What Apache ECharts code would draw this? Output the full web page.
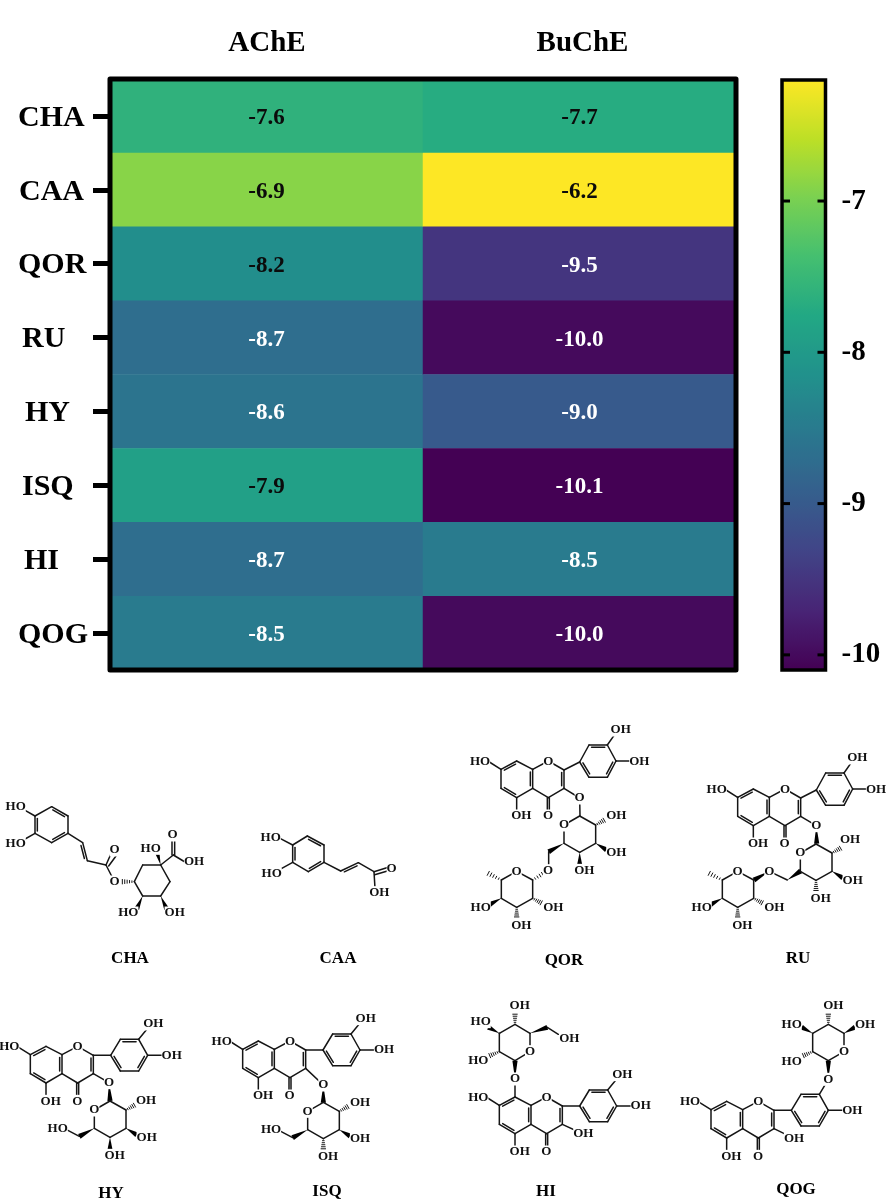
<!DOCTYPE html>
<html><head><meta charset="utf-8">
<style>html,body{margin:0;padding:0;background:#fff}#c{width:886px;height:1200px}</style>
<script src="https://cdn.jsdelivr.net/npm/echarts@6/dist/echarts.min.js"></script>
</head><body><div id="c"></div>
<script>
const compounds = ['CHA','CAA','QOR','RU','HY','ISQ','HI','QOG'];
const enzymes = ['AChE','BuChE'];
const ache = [-7.6,-6.9,-8.2,-8.7,-8.6,-7.9,-8.7,-8.5];
const buche = [-7.7,-6.2,-9.5,-10.0,-9.0,-10.1,-8.5,-10.0];
const colorbarTicks = [-7,-8,-9,-10];
const viridis = ['#440154','#482475','#414487','#355f8d','#2a788e','#21918c','#22a884','#44bf70','#7ad151','#bddf26','#fde725'];

const SERIF = '"Liberation Serif","Times New Roman",serif';
const labelShift = {CHA:0,CAA:1,QOR:0,RU:4,HY:7,ISQ:4,HI:6,QOG:0};

const heat = [];
[ache,buche].forEach((vals,x)=>vals.forEach((v,y)=>heat.push({
  value:[x,y,v],
  label:{color: v > -8.3 ? '#0b0b0b' : '#ffffff'}
})));

/* ---------- chemical structure drawings (illustrations, not data) ---------- */
const gfx = [];
const INK = '#151515';
const T = (x0,y0)=>(x,y)=>[x0+x/3,y0+y/3];
function seg(a,b,w){gfx.push({type:'line',z:20,silent:true,shape:{x1:a[0],y1:a[1],x2:b[0],y2:b[1]},style:{stroke:INK,lineWidth:w||1.5,lineCap:'round'}});}
function wedge(a,b){
  const dx=b[0]-a[0],dy=b[1]-a[1],n=Math.hypot(dx,dy)||1,px=-dy/n*2.6,py=dx/n*2.6;
  gfx.push({type:'polygon',z:20,silent:true,shape:{points:[a,[b[0]+px,b[1]+py],[b[0]-px,b[1]-py]]},style:{fill:'#000'}});
}
function hash(a,b){
  const dx=b[0]-a[0],dy=b[1]-a[1],n=Math.hypot(dx,dy)||1,px=-dy/n,py=dx/n;
  for(let i=1;i<=5;i++){const f=i/5*0.8,w=0.5+f*2.2,c=[a[0]+dx*f,a[1]+dy*f];
    seg([c[0]+px*w,c[1]+py*w],[c[0]-px*w,c[1]-py*w],1);}
}
function add(t,spec,ox,oy){
  ox=ox||0;oy=oy||0;
  const P=(x,y)=>t(x+ox,y+oy);
  (spec.path||[]).forEach(p=>{for(let i=0;i+3<p.length;i+=2)seg(P(p[i],p[i+1]),P(p[i+2],p[i+3]));});
  (spec.in||[]).forEach(d=>{
    const mx=(d[0]+d[2])/2,my=(d[1]+d[3])/2,vx=d[4]-mx,vy=d[5]-my,n=Math.hypot(vx,vy)||1,s=7,sx=vx/n*s,sy=vy/n*s;
    const q=0.14,ax=d[0]+(d[2]-d[0])*q+sx,ay=d[1]+(d[3]-d[1])*q+sy,bx=d[2]-(d[2]-d[0])*q+sx,by=d[3]-(d[3]-d[1])*q+sy;
    seg(P(ax,ay),P(bx,by));
  });
  (spec.w||[]).forEach(d=>wedge(P(d[0],d[1]),P(d[2],d[3])));
  (spec.h||[]).forEach(d=>hash(P(d[0],d[1]),P(d[2],d[3])));
  (spec.x||[]).forEach(d=>{const p=P(d[1],d[2]);gfx.push({type:'text',z:21,silent:true,x:p[0],y:p[1],style:{text:d[0],fill:'#111',font:'bold 13px '+SERIF,align:'center',verticalAlign:'middle',backgroundColor:'#fff'}});});
}
const coreA = {
  path:[[-95,0,-48,-25,0,0,0,57,-48,85,-95,57,-95,0],[0,0,47,-25,94,2,94,57,47,85,0,57],
        [-95,0,-130,-22],[-48,85,-48,130],[44,85,44,128],[50,85,50,128]],
  in:[[-95,0,-48,-25,-48,30],[-95,57,-48,85,-48,30],[0,0,0,57,-48,30],[94,2,94,57,47,30]],
  x:[['O',47,-24],['HO',-158,-24],['OH',-34,140],['O',46,140]]
};
const ringFlat = {
  path:[[94,2,146,2,175,-46,230,-46,257,2,230,49,175,49,146,2],[257,2,315,2]],
  in:[[175,-46,230,-46,202,2],[257,2,230,49,202,2],[175,49,146,2,202,2]],
  x:[['OH',329,2]]
};
const flat3OH = {path:[[230,-46,262,-85]],x:[['OH',274,-92]]};
const ringUp = {
  path:[[94,2,141,-22,169,-73,224,-73,250,-25,224,24,169,24,141,-22],[224,-73,250,-110],[250,-25,305,-25]],
  in:[[169,-73,224,-73,196,-25],[250,-25,224,24,196,-25],[169,24,141,-22,196,-25]],
  x:[['OH',264,-118],['OH',320,-24]]
};
function sugar(t,ox,oy,o){
  add(t,{path:[[0,0,47,-27,95,0,95,55,47,82,0,55,0,0]],
    h:[[95,0,127,-18]].concat(o.c4==='h'?[[47,82,47,120]]:[]),
    w:[[95,55,127,74]].concat(o.c4==='w'?[[47,82,47,120]]:[]),
    x:[['O',0,0],['OH',o.ohx||157,o.ohy||-27],['OH',157,83],['OH',61,136]]},ox,oy);
}
const ch2oh = {w:[[0,55,-45,79]],path:[[-45,79,-85,58]],x:[['HO',-110,55]]};
const rham = {
  path:[[0,0,48,26,48,81,0,108,-46,81,-46,26,0,0]],
  h:[[-46,26,-95,1],[48,81,80,98],[0,108,0,144]],
  w:[[-46,81,-82,100]],
  x:[['O',0,0],['OH',110,108],['OH',14,162],['HO',-108,108]]
};

/* CHA */
let t = T(0,730);
add(t,{path:[[105,258,155,230,204,258,204,310,155,338,105,310,105,258],[105,258,70,238],[105,310,70,330],
  [204,310,248,338],[262,392,318,405],[248,338,262,392],[318,405,338,360],[326,408,348,378],[318,405,344,456],
  [403,455,428,405,482,405,510,455,482,498,428,498,403,455],[482,405,520,375,555,396],[516,375,516,325],[524,375,524,325]],
  in:[[155,230,204,258,155,284],[204,310,155,338,155,284],[105,258,105,310,155,284],[248,338,262,392,215,372]],
  h:[[403,455,358,455]],w:[[482,405,470,362],[428,498,410,537],[482,498,500,537]],
  x:[['HO',47,231],['HO',47,340],['O',344,360],['O',344,456],['HO',452,355],['O',518,315],['OH',582,396],['HO',385,549],['OH',524,549]]});
/* CAA */
add(t,{path:[[878,345,922,318,972,345,972,397,925,425,878,397,878,345],[878,345,840,325],[878,397,840,418],
  [972,397,1022,423],[1022,423,1075,398],[1075,398,1122,425],[1122,425,1125,475],[1122,425,1165,412],[1124,434,1165,422]],
  in:[[922,318,972,345,925,371],[972,397,925,425,925,371],[878,345,878,397,925,371],[1022,423,1075,398,1060,430]],
  x:[['HO',812,322],['HO',815,432],['O',1175,417],['OH',1138,488]]});

/* QOR */
t = T(450,730);
add(t,coreA,248,118);add(t,ringUp,248,118);
add(t,{path:[[342,175,389,204],[390,257,389,204],[296,365,296,422]],w:[[342,340,296,365]]});
sugar(t,342,285,{c4:'w'});
add(t,rham,200,424);add(t,{h:[[248,450,294,422]]});
add(t,{x:[['O',389,204],['O',294,422]]});
/* RU */
add(t,coreA,958,202);add(t,ringUp,958,202);
add(t,{path:[[1052,259,1099,287],[958,424,1012,450]],w:[[1099,287,1100,341],[958,424,912,450],[1012,450,1052,423]]});
sugar(t,1051,369,{c4:'h',ohx:149,ohy:-39});
add(t,rham,863,424);
add(t,{x:[['O',1099,287],['O',958,424]]});

/* HY */
t = T(0,990);
add(t,coreA,186,194);add(t,ringFlat,186,194);add(t,flat3OH,186,194);
add(t,{path:[[280,251,327,278]],w:[[327,278,330,333]]});
sugar(t,283,360,{c4:'w',ohx:155});add(t,ch2oh,283,360);
add(t,{x:[['O',327,278]]});
/* ISQ */
add(t,coreA,823,178);add(t,ringFlat,823,178);add(t,flat3OH,823,178);
add(t,{path:[[917,235,970,285]],w:[[970,285,970,338]]});
sugar(t,923,364,{c4:'h'});add(t,ch2oh,923,364);
add(t,{x:[['O',970,285]]});

/* HI */
t = T(450,990);
add(t,coreA,243,346);add(t,ringFlat,243,346);add(t,flat3OH,243,346);
add(t,{path:[[337,403,400,432],[195,321,195,267],[240,185,195,212,148,185,148,130,195,103,240,130,240,185],[292,112,325,133]],
  w:[[195,267,195,212],[240,130,292,112],[148,130,115,112]],h:[[148,185,112,200],[195,103,195,65]],
  x:[['OH',400,432],['O',195,267],['O',240,185],['OH',358,145],['HO',85,213],['HO',92,95],['OH',209,48]]});
/* QOG */
add(t,coreA,878,359);add(t,ringFlat,878,359);
add(t,{path:[[972,416,1032,445],[1108,313,1135,268],[1182,185,1135,212,1088,185,1088,130,1135,103,1182,130,1182,185]],
  w:[[1135,268,1135,212],[1182,130,1215,112],[1088,130,1055,112]],h:[[1088,185,1053,200],[1135,103,1135,65]],
  x:[['OH',1032,445],['O',1135,268],['O',1182,185],['OH',1245,104],['HO',1025,215],['HO',1025,104],['OH',1150,48]]});

/* compound captions below structures */
const captions = [['CHA',130,959],['CAA',338,959],['QOR',564,961],['RU',798,959],['HY',111,1194],['ISQ',327,1192],['HI',546,1192],['QOG',796,1190]];
captions.forEach(c=>gfx.push({type:'text',z:21,silent:true,x:c[1],y:c[2],style:{text:c[0],fill:'#000',font:'bold 17px '+SERIF,align:'center',verticalAlign:'middle'}}));

/* heatmap frame on top of the cells */
gfx.push({type:'rect',z:30,silent:true,shape:{x:110,y:79,width:626,height:591},style:{fill:'none',stroke:'#000',lineWidth:5,lineJoin:'round'}});

const rich = {
  AChE:{fontFamily:SERIF,fontWeight:'bold',fontSize:29,color:'#000',padding:[0,0,0,1]},
  BuChE:{fontFamily:SERIF,fontWeight:'bold',fontSize:29,color:'#000',padding:[0,0,0,6]}
};
compounds.forEach(c=>{rich[c]={fontFamily:SERIF,fontWeight:'bold',fontSize:30,color:'#000',padding:[4,0,0,labelShift[c]]};});

const chart = echarts.init(document.getElementById('c'),null,{renderer:'canvas'});
chart.setOption({
  animation:false,
  backgroundColor:'#fff',
  grid:[
    {left:110,top:79,width:626,height:591,containLabel:false},
    {left:782,top:80,width:43.5,height:590,show:true,backgroundColor:'transparent',borderColor:'#000',borderWidth:3.5,z:6}
  ],
  xAxis:[
    {gridIndex:0,type:'category',position:'top',data:enzymes,axisLine:{show:false},axisTick:{show:false},splitLine:{show:false},
     axisLabel:{margin:21,formatter:v=>'{'+v+'|'+v+'}',rich:rich}},
    {gridIndex:1,type:'value',show:false,min:0,max:1}
  ],
  yAxis:[
    {gridIndex:0,type:'category',inverse:true,data:compounds,
     axisLine:{show:false},splitLine:{show:false},
     axisTick:{show:true,alignWithLabel:true,length:17,lineStyle:{color:'#000',width:5}},
     axisLabel:{align:'left',margin:92,formatter:v=>'{'+v+'|'+v+'}',rich:rich}},
    {gridIndex:1,type:'value',position:'right',min:-10.1,max:-6.2,z:7,
     axisLine:{show:false},splitLine:{show:false},axisTick:{show:false},
     axisLabel:{margin:16,customValues:colorbarTicks,color:'#000',fontFamily:SERIF,fontWeight:'bold',fontSize:29,align:'left',padding:[8,0,0,0],formatter:v=>String(v)}}
  ],
  visualMap:{
    type:'continuous',seriesIndex:0,min:-10.1,max:-6.2,calculable:false,show:true,realtime:false,
    left:782,top:80,itemWidth:43.5,itemHeight:590,padding:0,text:null,showLabel:false,z:4,
    textStyle:{color:'transparent',fontSize:1},
    inRange:{color:viridis}
  },
  series:[{
    type:'heatmap',xAxisIndex:0,yAxisIndex:0,data:heat,emphasis:{disabled:true},
    label:{show:true,fontFamily:SERIF,fontWeight:'bold',fontSize:23,offset:[0,2],formatter:p=>p.value[2].toFixed(1)}
  },{
    type:'custom',xAxisIndex:1,yAxisIndex:1,z:8,silent:true,coordinateSystem:'cartesian2d',
    data:colorbarTicks.map(v=>[0,v]),
    renderItem:(p,api)=>{
      const l=api.coord([0,api.value(1)]),r=api.coord([1,api.value(1)]),st={stroke:'#000',lineWidth:3};
      return {type:'group',children:[
        {type:'line',shape:{x1:l[0],y1:l[1],x2:l[0]+8,y2:l[1]},style:st},
        {type:'line',shape:{x1:r[0]-8,y1:r[1],x2:r[0],y2:r[1]},style:st}
      ]};
    }
  }],
  graphic:{elements:gfx}
});
</script></body></html>
